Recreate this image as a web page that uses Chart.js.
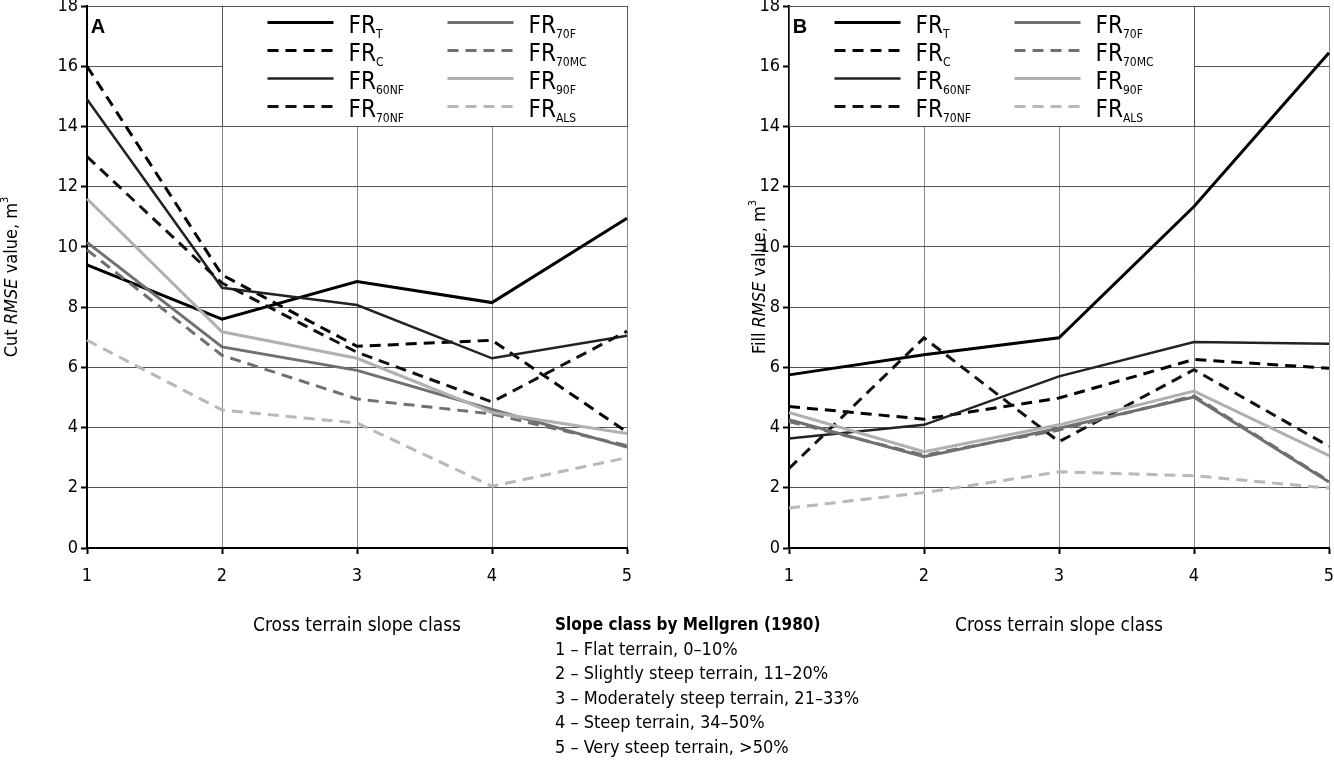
<!DOCTYPE html>
<html><head><meta charset="utf-8">
<script src="https://cdn.jsdelivr.net/npm/chart.js@4.4.0/dist/chart.umd.min.js"></script>
<style>
html,body{margin:0;padding:0;background:#fff;width:1334px;height:762px;overflow:hidden;}
#wa{position:absolute;left:0;top:0;width:640px;height:648px;}
#wb{position:absolute;left:702px;top:0;width:632px;height:648px;}
#note{position:absolute;left:555px;top:612px;font-family:'Liberation Sans Narrow','DejaVu Sans Condensed',sans-serif;font-size:18px;line-height:24.6px;color:#000;white-space:nowrap;}
#note b{font-size:17px;}
</style></head><body>
<div id="wa"><canvas id="ca"></canvas></div>
<div id="wb"><canvas id="cb"></canvas></div>
<div id="note"><b>Slope class by Mellgren (1980)</b><br>1 – Flat terrain, 0–10%<br>2 – Slightly steep terrain, 11–20%<br>3 – Moderately steep terrain, 21–33%<br>4 – Steep terrain, 34–50%<br>5 – Very steep terrain, &gt;50%</div>
<script>
// ---- data ----
const slopeClasses = ['1','2','3','4','5'];
const seriesSubs = ['T','C','60NF','70NF','70F','70MC','90F','ALS'];

const cutFRT    = [9.4, 7.6, 8.85, 8.15, 10.95];
const cutFRC    = [16.0, 9.07, 6.7, 6.9, 3.85];
const cutFR60NF = [14.9, 8.64, 8.07, 6.3, 7.05];
const cutFR70NF = [13.0, 8.8, 6.5, 4.85, 7.2];
const cutFR70F  = [10.15, 6.68, 5.9, 4.6, 3.35];
const cutFR70MC = [9.9, 6.4, 4.95, 4.45, 3.4];
const cutFR90F  = [11.6, 7.18, 6.3, 4.5, 3.8];
const cutFRALS  = [6.9, 4.58, 4.15, 2.05, 3.0];

const fillFRT    = [5.75, 6.42, 6.98, 11.34, 16.45];
const fillFRC    = [4.7, 4.28, 4.98, 6.26, 5.97];
const fillFR60NF = [3.64, 4.09, 5.7, 6.84, 6.78];
const fillFR70NF = [2.64, 6.98, 3.53, 5.92, 3.38];
const fillFR70F  = [4.26, 3.03, 3.98, 5.01, 2.19];
const fillFR70MC = [4.2, 3.08, 3.92, 5.05, 2.22];
const fillFR90F  = [4.5, 3.2, 4.09, 5.21, 3.07];
const fillFRALS  = [1.33, 1.84, 2.53, 2.4, 1.99];

const yMin = 0, yMax = 18, yStep = 2;

// ---- styles ----
const sColors = ['#000','#000','#222','#111','#707070','#707070','#b0b0b0','#b8b8b8'];
const sDash   = [[],[11,7],[],[11,7],[],[11,7],[],[11,7]];
const sWidth  = [3,3,2.5,3,3,3,3,3];

const FONT = "'Liberation Sans Narrow','DejaVu Sans Condensed',sans-serif";
Chart.defaults.font.family = FONT;
Chart.defaults.font.size = 18;
Chart.defaults.color = '#000';

const boxLegend = {
  id:'boxLegend',
  afterDatasetsDraw(chart, args, o){
    const {ctx, scales:{x,y}} = chart;
    const L = Math.round(x.getPixelForValue(o.x0))+0.5, R = Math.round(x.getPixelForValue(o.x1))+0.5;
    const T = Math.round(y.getPixelForValue(o.y1))+0.5, B = Math.round(y.getPixelForValue(o.y0))+0.5;
    ctx.save();
    ctx.fillStyle='#fff'; ctx.fillRect(L,T,R-L,B-T);
    ctx.strokeStyle='#555'; ctx.lineWidth=1; ctx.strokeRect(L,T,R-L,B-T);
    for(let i=0;i<8;i++){
      const col = i<4?0:1, row = i%4;
      const lx = L + 45 + col*180, ly = T + 16 + row*28;
      ctx.beginPath(); ctx.setLineDash(sDash[i]); ctx.strokeStyle=sColors[i]; ctx.lineWidth=sWidth[i];
      ctx.moveTo(lx,ly); ctx.lineTo(lx+66,ly); ctx.stroke();
      ctx.setLineDash([]);
      ctx.fillStyle='#000'; ctx.textBaseline='alphabetic'; ctx.textAlign='left';
      ctx.font = "24px "+FONT;
      const tx = lx+81;
      ctx.fillText('FR', tx, ly+10);
      const w = ctx.measureText('FR').width;
      ctx.font = "12px "+FONT;
      ctx.fillText(seriesSubs[i], tx+w, ly+15);
    }
    ctx.font = "bold 20px 'Liberation Sans',Arial,sans-serif";
    ctx.textBaseline='middle'; ctx.textAlign='center';
    ctx.fillText(o.letter, chart.chartArea.left+11, chart.chartArea.top+21);
    ctx.restore();
  }
};
const yTitle = {
  id:'yTitle',
  afterDraw(chart, args, o){
    const {ctx, chartArea} = chart;
    const parts = [[o.pre,'18px '+FONT,0],['RMSE','italic 18px '+FONT,0],[' value, m','18px '+FONT,0],['3','11px '+FONT,-7]];
    ctx.save();
    let total=0; parts.forEach(p=>{ctx.font=p[1]; p.push(ctx.measureText(p[0]).width); total+=p[3];});
    const cy = (chartArea.top+chartArea.bottom)/2 + o.dy;
    ctx.translate(chartArea.left + o.dx, cy); ctx.rotate(-Math.PI/2);
    ctx.fillStyle='#000'; ctx.textBaseline='middle'; ctx.textAlign='left';
    let xx = -total/2;
    parts.forEach(p=>{ctx.font=p[1]; ctx.fillText(p[0], xx, p[2]); xx+=p[3];});
    ctx.restore();
  }
};

function mk(id, series, legendOpts, titleOpts, padRight){
  const datasets = series.map((d,i)=>({
    label:'FR'+seriesSubs[i], data:d, borderColor:sColors[i], borderDash:sDash[i], borderWidth:sWidth[i],
    pointRadius:0, tension:0, fill:false
  })).reverse();
  return new Chart(document.getElementById(id), {
    type:'line',
    data:{labels:slopeClasses, datasets},
    plugins:[boxLegend, yTitle],
    options:{
      responsive:true, maintainAspectRatio:false, animation:false,
      layout:{padding:{left:0,right:padRight,top:6,bottom:0}},
      plugins:{legend:{display:false}, tooltip:{enabled:false}, boxLegend:legendOpts, yTitle:titleOpts},
      scales:{
        x:{ offset:false,
          grid:{color:'#888', lineWidth:1, tickLength:6, tickColor:'#000', tickWidth:2},
          border:{color:'#000', width:2},
          ticks:{padding:12, maxRotation:0, font:{size:18}},
          title:{display:true, text:'Cross terrain slope class', font:{size:19}, padding:{top:0,bottom:11}},
          afterFit(s){ s.height=100; s.paddingLeft=0; s.paddingRight=0; }
        },
        y:{ min:yMin, max:yMax,
          grid:{color:'#555', lineWidth:1, tickLength:6, tickColor:'#000', tickWidth:2},
          border:{color:'#000', width:2},
          ticks:{stepSize:yStep, padding:3, font:{size:18}},
          afterFit(s){ s.width=87; s.paddingTop=0; s.paddingBottom=0; }
        }
      }
    }
  });
}
mk('ca', [cutFRT,cutFRC,cutFR60NF,cutFR70NF,cutFR70F,cutFR70MC,cutFR90F,cutFRALS],
   {x0:1,x1:4,y0:14,y1:18,letter:'A'}, {pre:'Cut ', dx:-75, dy:0}, 13);
mk('cb', [fillFRT,fillFRC,fillFR60NF,fillFR70NF,fillFR70F,fillFR70MC,fillFR90F,fillFRALS],
   {x0:0,x1:3,y0:14,y1:18,letter:'B'}, {pre:'Fill ', dx:-29, dy:0}, 5);
</script>
</body></html>
